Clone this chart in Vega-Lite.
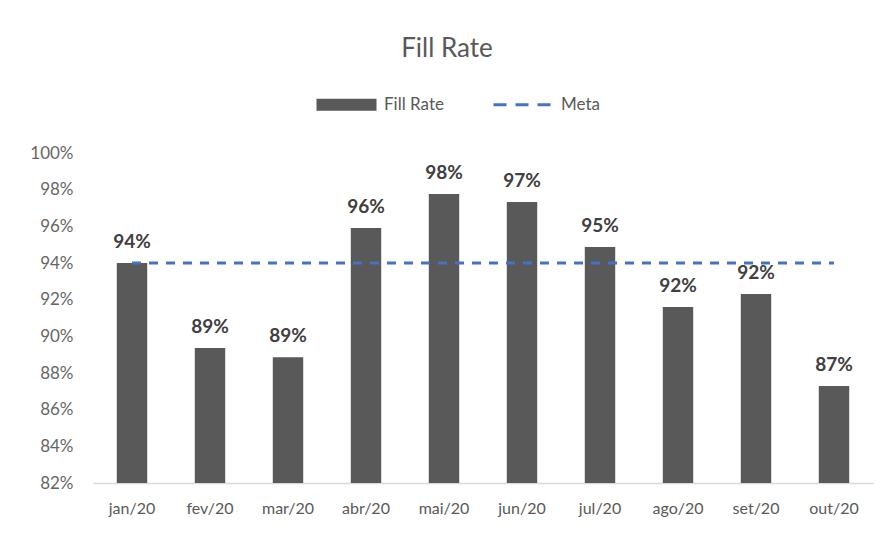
{
  "$schema": "https://vega.github.io/schema/vega-lite/v6.json",
  "width": 780,
  "height": 330,
  "autosize": {"type": "none"},
  "padding": {"left": 93, "top": 153, "right": 21, "bottom": 56},
  "background": "white",
  "title": {
    "text": "Fill Rate",
    "font": "Lato",
    "fontSize": 26,
    "fontWeight": "normal",
    "color": "#595959",
    "anchor": "middle",
    "dx": -36,
    "offset": 34
  },
  "config": {
    "view": {"stroke": null},
    "font": "Lato"
  },
  "datasets": {
    "fill": [
      {"mes": "jan/20", "valor": 0.940, "serie": "Fill Rate"},
      {"mes": "fev/20", "valor": 0.8936, "serie": "Fill Rate"},
      {"mes": "mar/20", "valor": 0.8886, "serie": "Fill Rate"},
      {"mes": "abr/20", "valor": 0.9591, "serie": "Fill Rate"},
      {"mes": "mai/20", "valor": 0.9777, "serie": "Fill Rate"},
      {"mes": "jun/20", "valor": 0.9733, "serie": "Fill Rate"},
      {"mes": "jul/20", "valor": 0.9487, "serie": "Fill Rate"},
      {"mes": "ago/20", "valor": 0.9160, "serie": "Fill Rate"},
      {"mes": "set/20", "valor": 0.9231, "serie": "Fill Rate"},
      {"mes": "out/20", "valor": 0.8729, "serie": "Fill Rate"}
    ],
    "meta": [
      {"mes": "jan/20", "valor": 0.94, "serie": "Meta"},
      {"mes": "fev/20", "valor": 0.94, "serie": "Meta"},
      {"mes": "mar/20", "valor": 0.94, "serie": "Meta"},
      {"mes": "abr/20", "valor": 0.94, "serie": "Meta"},
      {"mes": "mai/20", "valor": 0.94, "serie": "Meta"},
      {"mes": "jun/20", "valor": 0.94, "serie": "Meta"},
      {"mes": "jul/20", "valor": 0.94, "serie": "Meta"},
      {"mes": "ago/20", "valor": 0.94, "serie": "Meta"},
      {"mes": "set/20", "valor": 0.94, "serie": "Meta"},
      {"mes": "out/20", "valor": 0.94, "serie": "Meta"}
    ]
  },
  "encoding": {
    "x": {
      "field": "mes",
      "type": "nominal",
      "sort": null,
      "scale": {"paddingInner": 0.61, "paddingOuter": 0.305},
      "axis": {
        "title": null,
        "labelAngle": 0,
        "labelFont": "Lato",
        "labelFontSize": 16,
        "labelColor": "#595959",
        "labelPadding": 17,
        "ticks": false,
        "domainColor": "#d9d9d9",
        "domainWidth": 1.5,
        "grid": false
      }
    },
    "y": {
      "field": "valor",
      "type": "quantitative",
      "scale": {"domain": [0.82, 1.0], "nice": false, "zero": false},
      "axis": {
        "title": null,
        "format": ".0%",
        "values": [0.82, 0.84, 0.86, 0.88, 0.90, 0.92, 0.94, 0.96, 0.98, 1.0],
        "labelFont": "Lato",
        "labelFontSize": 17,
        "labelColor": "#666666",
        "labelPadding": 20,
        "ticks": false,
        "domain": false,
        "grid": false
      }
    }
  },
  "layer": [
    {
      "data": {"name": "fill"},
      "mark": {"type": "bar", "clip": true},
      "encoding": {
        "color": {
          "field": "serie",
          "type": "nominal",
          "scale": {"domain": ["Fill Rate", "Meta"], "range": ["#595959", "#4472C4"]},
          "legend": {
            "title": null,
            "orient": "none",
            "legendX": 245,
            "legendY": -57,
            "direction": "horizontal",
            "symbolSize": 3600,
            "symbolStrokeWidth": 3,
            "labelFont": "Lato",
            "labelFontSize": 17,
            "labelColor": "#595959",
            "labelOffset": 29,
            "columnPadding": 43,
            "encode": {
              "symbols": {
                "update": {
                  "shape": {"signal": "datum.value === 'Meta' ? 'stroke' : 'M-1,-0.2H1V0.2H-1Z'"},
                  "fill": {"signal": "datum.value === 'Meta' ? 'transparent' : '#595959'"},
                  "stroke": {"signal": "datum.value === 'Meta' ? '#4472C4' : '#595959'"},
                  "strokeDash": {"signal": "datum.value === 'Meta' ? [13, 9] : [1, 0]"},
                  "strokeWidth": {"signal": "datum.value === 'Meta' ? 3 : 0"},
                  "opacity": {"value": 1}
                }
              }
            }
          }
        }
      }
    },
    {
      "data": {"name": "fill"},
      "mark": {
        "type": "text",
        "font": "Lato",
        "fontSize": 19,
        "fontWeight": "bold",
        "color": "#404040",
        "baseline": "alphabetic",
        "dy": -15
      },
      "encoding": {
        "text": {"field": "valor", "type": "quantitative", "format": ".0%"}
      }
    },
    {
      "data": {"name": "meta"},
      "mark": {"type": "line", "strokeDash": [9, 8], "strokeWidth": 3},
      "encoding": {
        "color": {"field": "serie", "type": "nominal"}
      }
    }
  ]
}
